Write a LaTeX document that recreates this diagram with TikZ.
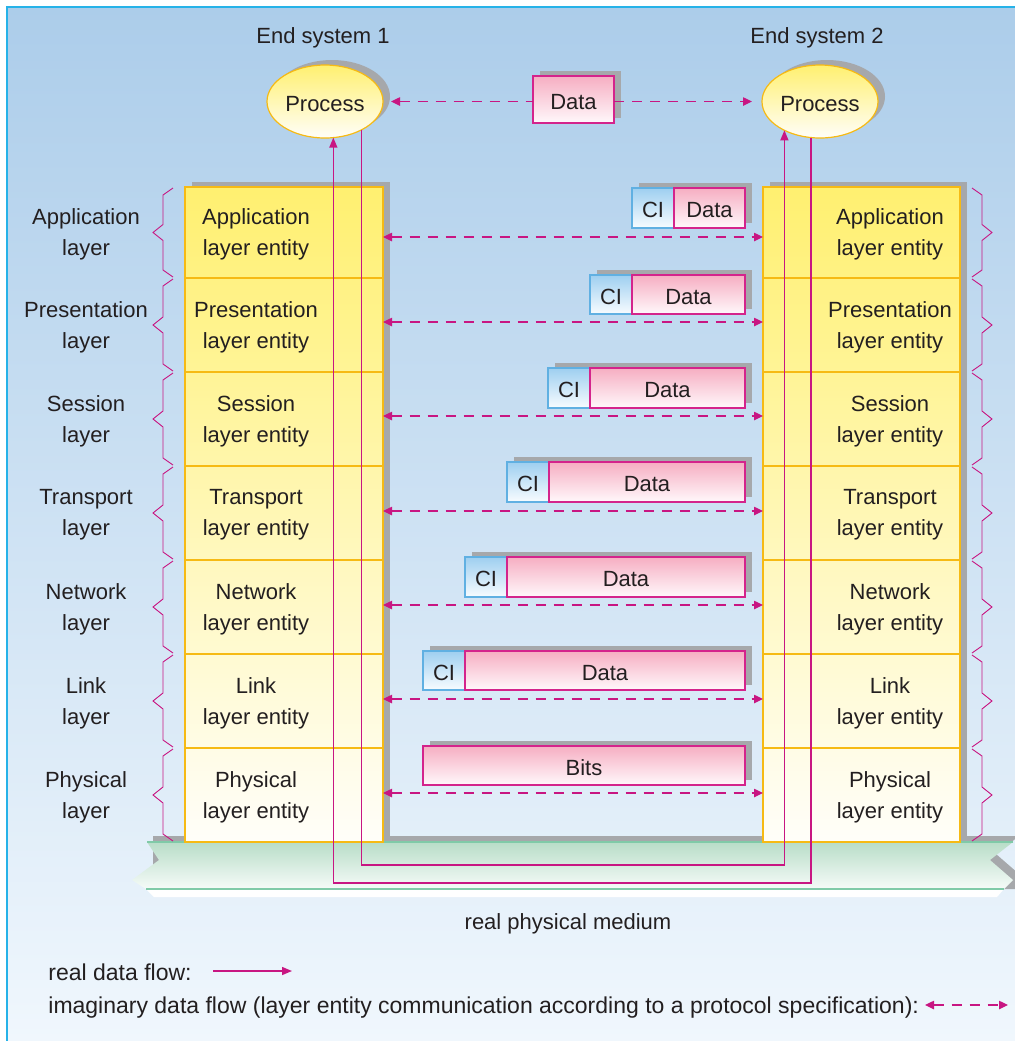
\documentclass[tikz,border=0pt]{standalone}
\usepackage{fontspec}
\setmainfont{Liberation Sans}
\usetikzlibrary{arrows.meta,shapes.geometric}

\definecolor{bgTop}{RGB}{172,205,234}
\definecolor{bgBot}{RGB}{240,247,253}
\definecolor{frameC}{RGB}{38,178,232}
\definecolor{ink}{RGB}{35,31,32}
\definecolor{mag}{RGB}{200,22,130}
\definecolor{shadowC}{RGB}{166,168,171}
\definecolor{stackTop}{RGB}{255,240,112}
\definecolor{stackBot}{RGB}{255,254,249}
\definecolor{edgeOr}{RGB}{246,186,20}
\definecolor{pinkTop}{RGB}{246,174,194}
\definecolor{pinkBot}{RGB}{255,248,251}
\definecolor{pinkEdge}{RGB}{212,36,140}
\definecolor{ciTop}{RGB}{158,207,240}
\definecolor{ciBot}{RGB}{248,252,255}
\definecolor{ciEdge}{RGB}{96,176,226}
\definecolor{medTop}{RGB}{184,221,200}
\definecolor{medBot}{RGB}{246,251,248}
\definecolor{medEdge}{RGB}{128,202,168}

\begin{document}
\begin{tikzpicture}[
  x={(0.5pt,0)}, y={(0,-0.5pt)},
  txt/.style={text=ink, font=\fontsize{11}{15.5}\selectfont, align=center, inner sep=0pt, yshift=-1pt},
  legendtxt/.style={text=ink, font=\fontsize{11.5}{14}\selectfont, anchor=base west, inner sep=0pt},
  layerbox/.style={draw=edgeOr, line width=0.55pt, inner sep=0pt, outer sep=0pt},
  boxtext/.style={text=ink, font=\fontsize{11}{13}\selectfont, text height=9.5pt, text depth=0pt},
  pinkbox/.style={draw=pinkEdge, line width=0.55pt, top color=pinkTop, bottom color=pinkBot,
    inner sep=0pt, outer sep=0pt, boxtext},
  cibox/.style={draw=ciEdge, line width=0.55pt, top color=ciTop, bottom color=ciBot,
    inner sep=0pt, outer sep=0pt, boxtext},
  proc/.style={ellipse, draw=edgeOr, line width=0.6pt, top color=stackTop, bottom color=stackBot,
    minimum width=58pt, minimum height=36.5pt, inner sep=0pt, outer sep=0pt, boxtext},
  brace/.style={draw=mag, line width=0.45pt, line join=miter},
  realflow/.style={draw=mag, line width=0.7pt, -{Triangle[length=5pt,width=4pt]}},
  dashline/.style={draw=mag, line width=0.6pt, dash pattern=on 5pt off 4pt},
  tipL/.style={{Triangle[length=4.5pt,width=4.2pt]}-},
  tipR/.style={-{Triangle[length=4.5pt,width=4.2pt]}},
  tipLR/.style={{Triangle[length=4.5pt,width=4.2pt]}-{Triangle[length=4.5pt,width=4.2pt]}},
]
\useasboundingbox (0,0) rectangle (1015,1041);

% background and frame
\fill[white] (0,0) rectangle (1015,1041);
\shade[top color=bgTop, bottom color=bgBot] (7,7) rectangle (1015,1041);
\draw[frameC, line width=1pt] (7,1041) -- (7,7) -- (1015,7);

% headings
\node[txt] (es1) at (323,36) {End system 1};
\node[txt] (es2) at (817,36) {End system 2};

% drop shadows
\fill[shadowC] (332,96.5) ellipse [x radius=29pt, y radius=18.25pt];
\fill[shadowC] (827,96.5) ellipse [x radius=29pt, y radius=18.25pt];
\fill[shadowC] (540,71) rectangle (621,118);
\fill[shadowC] (192,182) rectangle (390,842);
\fill[shadowC] (770,182) rectangle (967,842);

% physical medium
\fill[shadowC] (153,836) -- (1019,836) -- (996,854) -- (1019,874) -- (1019,889) -- (153,889) -- cycle;
\shade[top color=medTop, bottom color=medBot]
  (147,842) -- (1013,842) -- (990,860) -- (1013,880) -- (1004,889)
  -- (146,889) -- (132,880) -- (159,860) -- cycle;
\fill[white] (146,889) -- (1004,889) -- (997,897) -- (154,897) -- cycle;
\draw[medEdge, line width=1pt] (147,842) -- (1013,842);
\draw[medEdge, line width=1pt] (146,889) -- (1004,889);
\node[txt] (medium) at (568,922) {real physical medium};

% layer stacks, layer names and braces
\foreach \i/\ty/\by/\pa/\pb/\name in {
  0/187/278/100/86/Application,
  1/278/372/86/72/Presentation,
  2/372/466/72/57/Session,
  3/466/560/57/43/Transport,
  4/560/654/43/29/Network,
  5/654/748/29/14/Link,
  6/748/842/14/0/Physical}{
  \pgfmathsetmacro\cy{(\ty+\by)/2}
  \pgfmathsetmacro\hh{(\by-\ty)/2}
  \node[layerbox, minimum width=99pt, minimum height=\hh pt,
        top color=stackTop!\pa!stackBot, bottom color=stackTop!\pb!stackBot]
        (L\i) at (284,\cy) {};
  \node[layerbox, minimum width=98.5pt, minimum height=\hh pt,
        top color=stackTop!\pa!stackBot, bottom color=stackTop!\pb!stackBot]
        (R\i) at (861.5,\cy) {};
  \node[txt] (LT\i) at (256,\cy) {\name\\layer entity};
  \node[txt] (RT\i) at (890,\cy) {\name\\layer entity};
  \node[txt] (N\i) at (86,\cy) {\name\\layer};
  \draw[brace] (173,\ty+1) -- (163,\ty+8) -- (163,\cy-8) -- (153,\cy)
    -- (163,\cy+8) -- (163,\by-8) -- (173,\by-1);
  \draw[brace] (972,\ty+1) -- (982,\ty+8) -- (982,\cy-8) -- (992,\cy)
    -- (982,\cy+8) -- (982,\by-8) -- (972,\by-1);
}

% protocol data units between peer entities
\foreach \i/\cx/\ty/\by/\ay in {
  0/632/188/228/237,
  1/590/275/314/322,
  2/548/368/408/416,
  3/507/462/502/511,
  4/465/557/597/605,
  5/423/651/690/699}{
  \pgfmathsetmacro\cy{(\ty+\by)/2}
  \pgfmathsetmacro\ph{(\by-\ty)/2}
  \pgfmathsetmacro\dcx{(\cx+42+745)/2}
  \pgfmathsetmacro\dw{(745-\cx-42)/2}
  \fill[shadowC] (\cx+7,\ty-5) rectangle (752,\by-5);
  \node[cibox, minimum width=21pt, minimum height=\ph pt] (C\i) at (\cx+21,\cy) {CI};
  \node[pinkbox, minimum width=\dw pt, minimum height=\ph pt] (D\i) at (\dcx,\cy) {Data};
  \coordinate (a\i) at (0,\ay);
  \draw[dashline, tipLR] (a\i -| L\i.east) -- (a\i -| R\i.west);
}
\fill[shadowC] (430,741) rectangle (752,780);
\node[pinkbox, minimum width=161pt, minimum height=19.5pt] (D6) at (584,765.5) {Bits};
\coordinate (a6) at (0,793);
\draw[dashline, tipLR] (a6 -| L6.east) -- (a6 -| R6.west);

% application processes
\node[pinkbox, minimum width=40.5pt, minimum height=23.5pt] (Dtop) at (573.5,99.5) {Data};
\node[proc] (Pl) at (325,101.5) {Process};
\node[proc] (Pr) at (820,101.5) {Process};
\draw[dashline, tipL, shorten <=4pt] (Pl.east) -- (Dtop.west |- Pl.east);
\draw[dashline, tipR, shorten >=5pt] (Dtop.east |- Pr.west) -- (Pr.west);

% real data flow through the medium
\coordinate (m1) at (0,865);
\coordinate (m2) at (0,883);
\draw[realflow] (Pl.-38.5) -- (Pl.-38.5 |- m1) -| (Pr.-141.5);
\draw[realflow] (Pr.-104) -- (Pr.-104 |- m2) -| (Pl.-77.5);

% legend
\node[legendtxt] (lg1) at (48,980) {real data flow:};
\node[legendtxt] (lg2) at (48,1013) {imaginary data flow (layer entity communication according to a protocol specification):};
\coordinate (lg1a) at (213,971);
\coordinate (lg1b) at (292,971);
\coordinate (lg2a) at (925,1005);
\coordinate (lg2b) at (1008,1005);
\draw[realflow] (lg1a) -- (lg1b);
\draw[dashline, tipLR] (lg2a) -- (lg2b);
\end{tikzpicture}
\end{document}
